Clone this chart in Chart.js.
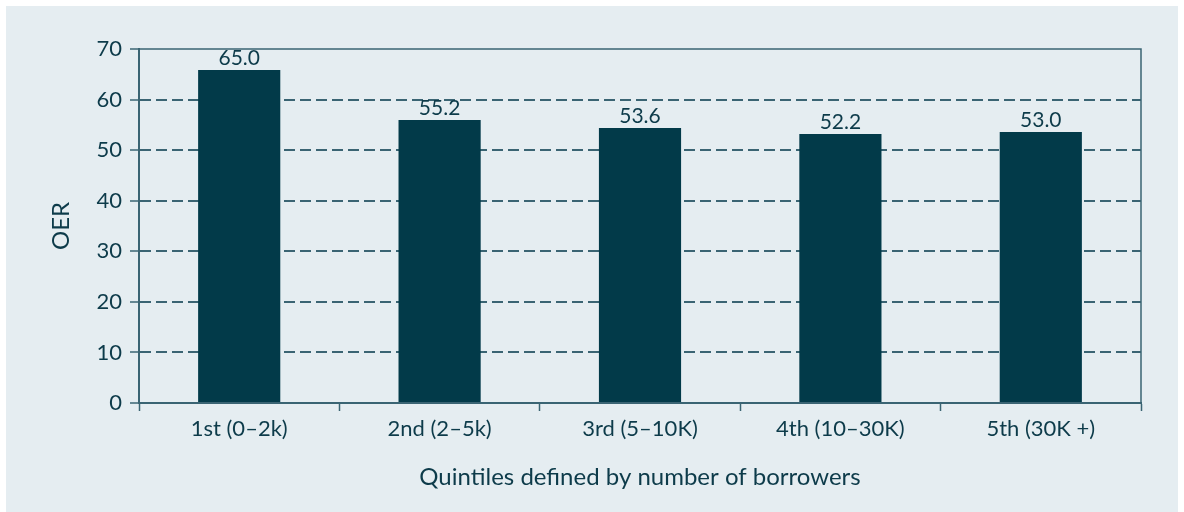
<!DOCTYPE html>
<html>
<head>
<meta charset="utf-8">
<script src="https://cdn.jsdelivr.net/npm/chart.js@4.4.1/dist/chart.umd.min.js"></script>
<style>
  html, body { margin: 0; padding: 0; background: #ffffff; }
  #wrap { width: 1184px; height: 512px; position: relative; }
</style>
</head>
<body>
<div id="wrap"><canvas id="c" width="1184" height="512"></canvas></div>
<script>
// ---- data ----
const categories = ["1st (0–2k)", "2nd (2–5k)", "3rd (5–10K)", "4th (10–30K)", "5th (30K +)"];
const barHeights = [65.85, 55.95, 54.4, 53.2, 53.6];
const valueLabels = ["65.0", "55.2", "53.6", "52.2", "53.0"];
const yTicks = [0, 10, 20, 30, 40, 50, 60, 70];
const yTitle = "OER";
const xTitle = "Quintiles defined by number of borrowers";

const TEXT = "#0d3b4a";
const AXIS = "#3a6473";
const BAR = "#023a49";
const PANEL = "#e5edf1";
const FONT = "Lato, 'Open Sans', sans-serif";

const panelPlugin = {
  id: "panel",
  beforeDraw(chart) {
    const ctx = chart.ctx;
    ctx.save();
    ctx.fillStyle = "#ffffff";
    ctx.fillRect(0, 0, chart.width, chart.height);
    ctx.fillStyle = PANEL;
    ctx.fillRect(6, 6, 1172, 506);
    ctx.restore();
  },
  afterDraw(chart) {
    const {ctx, chartArea: a} = chart;
    ctx.save();
    ctx.strokeStyle = AXIS;
    ctx.lineWidth = 1.5;
    ctx.beginPath();
    ctx.moveTo(a.left, a.top);
    ctx.lineTo(a.right, a.top);
    ctx.lineTo(a.right, a.bottom);
    ctx.stroke();
    ctx.restore();
  }
};

const labelPlugin = {
  id: "valueLabels",
  afterDatasetsDraw(chart) {
    const ctx = chart.ctx;
    const meta = chart.getDatasetMeta(0);
    ctx.save();
    ctx.fillStyle = TEXT;
    ctx.font = "21px " + FONT;
    ctx.textAlign = "center";
    ctx.textBaseline = "alphabetic";
    meta.data.forEach((bar, i) => {
      ctx.fillText(valueLabels[i], bar.x, bar.y - 5);
    });
    ctx.restore();
  }
};

new Chart(document.getElementById("c"), {
  type: "bar",
  data: {
    labels: categories,
    datasets: [{
      data: barHeights,
      backgroundColor: BAR,
      borderWidth: 0,
      barPercentage: 0.41,
      categoryPercentage: 1.0
    }]
  },
  options: {
    responsive: false,
    animation: false,
    devicePixelRatio: 1,
    layout: { padding: { left: 0, right: 43, top: 49, bottom: 0 } },
    plugins: { legend: { display: false }, tooltip: { enabled: false } },
    scales: {
      x: {
        offset: true,
        grid: { display: true, drawOnChartArea: false, drawTicks: true, tickLength: 8, tickColor: AXIS, tickWidth: 1.5, offset: true },
        border: { display: true, color: AXIS, width: 2 },
        ticks: { color: TEXT, font: { family: FONT, size: 22 }, padding: 5, maxRotation: 0, autoSkip: false },
        title: { display: true, text: xTitle, color: TEXT, font: { family: FONT, size: 24 }, padding: { top: 0, bottom: 20 } },
        afterFit(scale) { scale.height = 109; }
      },
      y: {
        min: 0, max: 70,
        afterBuildTicks(scale) { scale.ticks = yTicks.map(v => ({ value: v })); },
        grid: {
          color: (c) => (c.tick && (c.tick.value === 0 || c.tick.value === 70)) ? "rgba(0,0,0,0)" : AXIS,
          lineWidth: 2,
          drawTicks: true, tickLength: 9, tickColor: AXIS, tickWidth: 1.5
        },
        border: { display: true, color: AXIS, width: 2, dash: [11, 5] },
        ticks: { color: TEXT, font: { family: FONT, size: 22 }, padding: 8 },
        title: { display: true, text: yTitle, color: TEXT, font: { family: FONT, size: 24 }, padding: { top: 47, bottom: 0 } },
        afterFit(scale) { scale.width = 139; }
      }
    }
  },
  plugins: [panelPlugin, labelPlugin]
});
</script>
</body>
</html>
